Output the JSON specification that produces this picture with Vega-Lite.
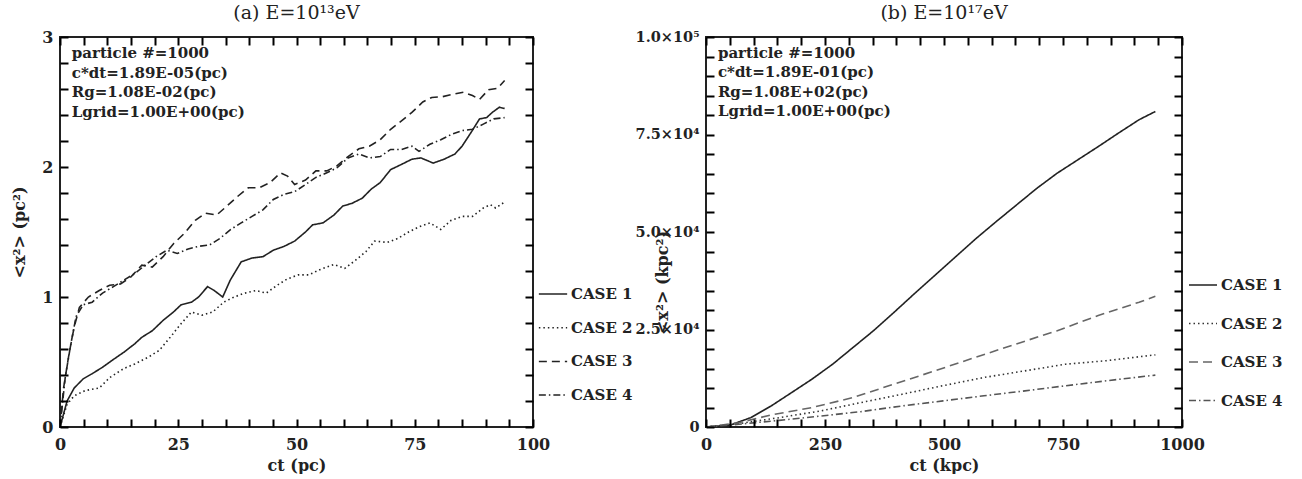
{
  "$schema": "https://vega.github.io/schema/vega-lite/v6.json",
  "background": "white",
  "padding": {"left": 10, "top": 3, "right": 0, "bottom": 0},
  "spacing": 0,
  "resolve": {"scale": {"strokeDash": "independent", "color": "independent"}, "legend": {"strokeDash": "independent", "color": "independent"}},
  "datasets": {
    "a": [
      {"c":"CASE 1","x":0,"y":0},{"c":"CASE 1","x":1.5,"y":0.2},{"c":"CASE 1","x":3,"y":0.3},{"c":"CASE 1","x":4.9,"y":0.37},{"c":"CASE 1","x":6.8,"y":0.41},{"c":"CASE 1","x":9,"y":0.46},{"c":"CASE 1","x":11.3,"y":0.52},{"c":"CASE 1","x":13.5,"y":0.575},{"c":"CASE 1","x":15.8,"y":0.64},{"c":"CASE 1","x":17.3,"y":0.69},{"c":"CASE 1","x":19.5,"y":0.74},{"c":"CASE 1","x":21.8,"y":0.82},{"c":"CASE 1","x":24,"y":0.885},{"c":"CASE 1","x":25.6,"y":0.94},{"c":"CASE 1","x":27.8,"y":0.96},{"c":"CASE 1","x":29.3,"y":1.0},{"c":"CASE 1","x":31.2,"y":1.08},{"c":"CASE 1","x":32.6,"y":1.05},{"c":"CASE 1","x":34.4,"y":1.0},{"c":"CASE 1","x":36,"y":1.13},{"c":"CASE 1","x":38.3,"y":1.27},{"c":"CASE 1","x":40.6,"y":1.3},{"c":"CASE 1","x":42.9,"y":1.31},{"c":"CASE 1","x":45.1,"y":1.36},{"c":"CASE 1","x":47.4,"y":1.39},{"c":"CASE 1","x":49.6,"y":1.43},{"c":"CASE 1","x":51.9,"y":1.5},{"c":"CASE 1","x":53.4,"y":1.555},{"c":"CASE 1","x":55.6,"y":1.57},{"c":"CASE 1","x":57.9,"y":1.63},{"c":"CASE 1","x":59.8,"y":1.7},{"c":"CASE 1","x":61.7,"y":1.72},{"c":"CASE 1","x":63.9,"y":1.76},{"c":"CASE 1","x":65.8,"y":1.83},{"c":"CASE 1","x":67.7,"y":1.88},{"c":"CASE 1","x":69.9,"y":1.98},{"c":"CASE 1","x":72.2,"y":2.02},{"c":"CASE 1","x":74.4,"y":2.06},{"c":"CASE 1","x":76.3,"y":2.07},{"c":"CASE 1","x":78.9,"y":2.03},{"c":"CASE 1","x":81.2,"y":2.06},{"c":"CASE 1","x":83.5,"y":2.1},{"c":"CASE 1","x":85,"y":2.16},{"c":"CASE 1","x":86.8,"y":2.26},{"c":"CASE 1","x":88.7,"y":2.37},{"c":"CASE 1","x":90.2,"y":2.38},{"c":"CASE 1","x":91.4,"y":2.42},{"c":"CASE 1","x":92.9,"y":2.46},{"c":"CASE 1","x":94,"y":2.45},
      {"c":"CASE 2","x":0,"y":0},{"c":"CASE 2","x":1.5,"y":0.175},{"c":"CASE 2","x":3,"y":0.24},{"c":"CASE 2","x":5.3,"y":0.28},{"c":"CASE 2","x":8.3,"y":0.3},{"c":"CASE 2","x":10.5,"y":0.38},{"c":"CASE 2","x":13.5,"y":0.45},{"c":"CASE 2","x":15.8,"y":0.485},{"c":"CASE 2","x":18.8,"y":0.54},{"c":"CASE 2","x":21,"y":0.59},{"c":"CASE 2","x":23.3,"y":0.69},{"c":"CASE 2","x":25.6,"y":0.795},{"c":"CASE 2","x":27.8,"y":0.885},{"c":"CASE 2","x":30,"y":0.86},{"c":"CASE 2","x":32.3,"y":0.885},{"c":"CASE 2","x":34.6,"y":0.96},{"c":"CASE 2","x":36.8,"y":1.0},{"c":"CASE 2","x":39.1,"y":1.03},{"c":"CASE 2","x":41.4,"y":1.05},{"c":"CASE 2","x":43.6,"y":1.03},{"c":"CASE 2","x":45.9,"y":1.09},{"c":"CASE 2","x":48.1,"y":1.14},{"c":"CASE 2","x":50.4,"y":1.17},{"c":"CASE 2","x":52.6,"y":1.17},{"c":"CASE 2","x":54.9,"y":1.21},{"c":"CASE 2","x":57.9,"y":1.25},{"c":"CASE 2","x":60.2,"y":1.22},{"c":"CASE 2","x":62.4,"y":1.28},{"c":"CASE 2","x":64.7,"y":1.35},{"c":"CASE 2","x":66.5,"y":1.43},{"c":"CASE 2","x":69.2,"y":1.42},{"c":"CASE 2","x":71.4,"y":1.45},{"c":"CASE 2","x":73.7,"y":1.5},{"c":"CASE 2","x":75.9,"y":1.54},{"c":"CASE 2","x":78.2,"y":1.57},{"c":"CASE 2","x":80.5,"y":1.52},{"c":"CASE 2","x":82.7,"y":1.59},{"c":"CASE 2","x":85,"y":1.62},{"c":"CASE 2","x":87.2,"y":1.62},{"c":"CASE 2","x":89.5,"y":1.685},{"c":"CASE 2","x":91,"y":1.71},{"c":"CASE 2","x":92.1,"y":1.685},{"c":"CASE 2","x":94,"y":1.73},
      {"c":"CASE 3","x":0,"y":0},{"c":"CASE 3","x":0.75,"y":0.3},{"c":"CASE 3","x":1.9,"y":0.56},{"c":"CASE 3","x":3,"y":0.77},{"c":"CASE 3","x":4.1,"y":0.92},{"c":"CASE 3","x":6,"y":1.0},{"c":"CASE 3","x":8.3,"y":1.05},{"c":"CASE 3","x":10.5,"y":1.09},{"c":"CASE 3","x":12.8,"y":1.1},{"c":"CASE 3","x":15,"y":1.155},{"c":"CASE 3","x":17.3,"y":1.245},{"c":"CASE 3","x":19.5,"y":1.23},{"c":"CASE 3","x":21.8,"y":1.31},{"c":"CASE 3","x":24,"y":1.41},{"c":"CASE 3","x":26.3,"y":1.49},{"c":"CASE 3","x":28.6,"y":1.59},{"c":"CASE 3","x":30.8,"y":1.645},{"c":"CASE 3","x":33.1,"y":1.63},{"c":"CASE 3","x":35.3,"y":1.7},{"c":"CASE 3","x":37.6,"y":1.775},{"c":"CASE 3","x":39.8,"y":1.84},{"c":"CASE 3","x":42.1,"y":1.84},{"c":"CASE 3","x":44.4,"y":1.88},{"c":"CASE 3","x":46.6,"y":1.955},{"c":"CASE 3","x":48.1,"y":1.93},{"c":"CASE 3","x":49.6,"y":1.865},{"c":"CASE 3","x":51.9,"y":1.9},{"c":"CASE 3","x":54.1,"y":1.97},{"c":"CASE 3","x":56.4,"y":1.97},{"c":"CASE 3","x":58.6,"y":2.01},{"c":"CASE 3","x":60.9,"y":2.08},{"c":"CASE 3","x":63.2,"y":2.14},{"c":"CASE 3","x":65.4,"y":2.16},{"c":"CASE 3","x":67.7,"y":2.21},{"c":"CASE 3","x":69.9,"y":2.29},{"c":"CASE 3","x":72.2,"y":2.355},{"c":"CASE 3","x":74.4,"y":2.42},{"c":"CASE 3","x":76.7,"y":2.5},{"c":"CASE 3","x":78.6,"y":2.535},{"c":"CASE 3","x":80.8,"y":2.54},{"c":"CASE 3","x":83.1,"y":2.56},{"c":"CASE 3","x":85.3,"y":2.575},{"c":"CASE 3","x":87.2,"y":2.55},{"c":"CASE 3","x":88.7,"y":2.52},{"c":"CASE 3","x":90.6,"y":2.595},{"c":"CASE 3","x":92.5,"y":2.605},{"c":"CASE 3","x":94,"y":2.665},
      {"c":"CASE 4","x":0,"y":0},{"c":"CASE 4","x":1.1,"y":0.38},{"c":"CASE 4","x":2.3,"y":0.64},{"c":"CASE 4","x":3.4,"y":0.85},{"c":"CASE 4","x":4.9,"y":0.94},{"c":"CASE 4","x":6.8,"y":0.96},{"c":"CASE 4","x":9,"y":1.03},{"c":"CASE 4","x":11.3,"y":1.08},{"c":"CASE 4","x":13.5,"y":1.13},{"c":"CASE 4","x":15.8,"y":1.18},{"c":"CASE 4","x":18,"y":1.245},{"c":"CASE 4","x":20.3,"y":1.31},{"c":"CASE 4","x":22.6,"y":1.36},{"c":"CASE 4","x":24.8,"y":1.335},{"c":"CASE 4","x":27.1,"y":1.37},{"c":"CASE 4","x":29.3,"y":1.39},{"c":"CASE 4","x":31.6,"y":1.4},{"c":"CASE 4","x":33.8,"y":1.45},{"c":"CASE 4","x":36.1,"y":1.52},{"c":"CASE 4","x":38.3,"y":1.57},{"c":"CASE 4","x":40.6,"y":1.62},{"c":"CASE 4","x":42.9,"y":1.67},{"c":"CASE 4","x":45.1,"y":1.75},{"c":"CASE 4","x":47.4,"y":1.79},{"c":"CASE 4","x":49.6,"y":1.81},{"c":"CASE 4","x":51.9,"y":1.865},{"c":"CASE 4","x":54.1,"y":1.92},{"c":"CASE 4","x":56.4,"y":1.955},{"c":"CASE 4","x":58.6,"y":1.995},{"c":"CASE 4","x":60.9,"y":2.07},{"c":"CASE 4","x":63.2,"y":2.1},{"c":"CASE 4","x":65.4,"y":2.07},{"c":"CASE 4","x":67.7,"y":2.08},{"c":"CASE 4","x":69.9,"y":2.135},{"c":"CASE 4","x":72.2,"y":2.135},{"c":"CASE 4","x":74.4,"y":2.16},{"c":"CASE 4","x":75.9,"y":2.12},{"c":"CASE 4","x":78.2,"y":2.175},{"c":"CASE 4","x":80.5,"y":2.21},{"c":"CASE 4","x":82.7,"y":2.25},{"c":"CASE 4","x":85,"y":2.28},{"c":"CASE 4","x":87.2,"y":2.29},{"c":"CASE 4","x":89.5,"y":2.33},{"c":"CASE 4","x":91.7,"y":2.37},{"c":"CASE 4","x":94,"y":2.38}
    ],
    "b": [
      {"c":"CASE 1","x":0,"y":0},{"c":"CASE 1","x":51.5,"y":515},{"c":"CASE 1","x":94,"y":2400},{"c":"CASE 1","x":137,"y":5400},{"c":"CASE 1","x":180,"y":8840},{"c":"CASE 1","x":223,"y":12300},{"c":"CASE 1","x":266,"y":16100},{"c":"CASE 1","x":309,"y":20400},{"c":"CASE 1","x":352,"y":24700},{"c":"CASE 1","x":395,"y":29400},{"c":"CASE 1","x":438,"y":34200},{"c":"CASE 1","x":481,"y":38900},{"c":"CASE 1","x":524,"y":43600},{"c":"CASE 1","x":567,"y":48300},{"c":"CASE 1","x":609,"y":52600},{"c":"CASE 1","x":652,"y":56900},{"c":"CASE 1","x":695,"y":61200},{"c":"CASE 1","x":738,"y":65100},{"c":"CASE 1","x":781,"y":68500},{"c":"CASE 1","x":824,"y":71900},{"c":"CASE 1","x":867,"y":75400},{"c":"CASE 1","x":910,"y":78800},{"c":"CASE 1","x":944,"y":80900},
      {"c":"CASE 2","x":0,"y":0},{"c":"CASE 2","x":69,"y":860},{"c":"CASE 2","x":154,"y":2400},{"c":"CASE 2","x":240,"y":4100},{"c":"CASE 2","x":326,"y":6270},{"c":"CASE 2","x":412,"y":8400},{"c":"CASE 2","x":498,"y":10600},{"c":"CASE 2","x":584,"y":12700},{"c":"CASE 2","x":670,"y":14400},{"c":"CASE 2","x":755,"y":16100},{"c":"CASE 2","x":841,"y":17000},{"c":"CASE 2","x":944,"y":18500},
      {"c":"CASE 3","x":0,"y":0},{"c":"CASE 3","x":69,"y":1100},{"c":"CASE 3","x":137,"y":3100},{"c":"CASE 3","x":223,"y":5000},{"c":"CASE 3","x":309,"y":7550},{"c":"CASE 3","x":395,"y":11000},{"c":"CASE 3","x":481,"y":14400},{"c":"CASE 3","x":567,"y":17900},{"c":"CASE 3","x":652,"y":21300},{"c":"CASE 3","x":738,"y":24700},{"c":"CASE 3","x":824,"y":28600},{"c":"CASE 3","x":910,"y":32000},{"c":"CASE 3","x":944,"y":33500},
      {"c":"CASE 4","x":0,"y":0},{"c":"CASE 4","x":69,"y":690},{"c":"CASE 4","x":154,"y":1700},{"c":"CASE 4","x":240,"y":2800},{"c":"CASE 4","x":326,"y":3950},{"c":"CASE 4","x":412,"y":5400},{"c":"CASE 4","x":498,"y":6700},{"c":"CASE 4","x":584,"y":8000},{"c":"CASE 4","x":670,"y":9270},{"c":"CASE 4","x":755,"y":10560},{"c":"CASE 4","x":841,"y":11850},{"c":"CASE 4","x":944,"y":13300}
    ],
    "noteA": [{"note": "particle #=1000\nc*dt=1.89E-05(pc)\nRg=1.08E-02(pc)\nLgrid=1.00E+00(pc)"}],
    "noteB": [{"note": "particle #=1000\nc*dt=1.89E-01(pc)\nRg=1.08E+02(pc)\nLgrid=1.00E+00(pc)"}]
  },
  "hconcat": [
    {
      "width": 473,
      "height": 390,
      "title": {"text": "(a) E=10¹³eV", "font": "DejaVu Serif", "fontSize": 19, "fontWeight": "normal", "offset": 6, "color": "#222"},
      "resolve": {"axis": {"x": "independent", "y": "independent"}},
      "layer": [
        {
          "data": {"name": "a"},
          "mark": {"type": "line", "strokeWidth": 1.6, "color": "#222"},
          "encoding": {
            "x": {"field": "x", "type": "quantitative", "scale": {"domain": [0, 100], "nice": false},
              "axis": {"title": "ct (pc)", "values": [0,5,10,15,20,25,30,35,40,45,50,55,60,65,70,75,80,85,90,95,100], "labelExpr": "datum.value % 25 === 0 ? format(datum.value, 'd') : ''", "labelPadding": 9, "ticks": true, "tickColor": "#000000", "tickSize": 8, "tickWidth": 2, "offset": -8, "zindex": 1}},
            "y": {"field": "y", "type": "quantitative", "scale": {"domain": [0, 3], "nice": false},
              "axis": {"title": "<x²> (pc²)", "values": [0,0.2,0.4,0.6,0.8,1,1.2,1.4,1.6,1.8,2,2.2,2.4,2.6,2.8,3], "labelExpr": "abs(datum.value - round(datum.value)) < 0.001 ? format(datum.value, 'd') : ''", "labelPadding": 7, "titlePadding": 14, "ticks": true, "tickColor": "#000000", "tickSize": 8, "tickWidth": 2, "offset": -8, "zindex": 1}},
            "strokeDash": {"field": "c", "type": "nominal",
              "scale": {"domain": ["CASE 1", "CASE 2", "CASE 3", "CASE 4"], "range": [[1, 0], [1.5, 3], [8, 5], [7, 3, 1.5, 3]]},
              "legend": {"orient": "none", "legendX": 478, "legendY": 242, "title": null, "symbolType": "stroke", "symbolSize": 800, "symbolStrokeWidth": 1.5, "symbolStrokeColor": "#222", "labelFont": "DejaVu Serif", "labelFontWeight": "bold", "labelFontSize": 15, "labelOffset": 3, "rowPadding": 10.7, "labelColor": "#222"}}
          }
        },
        {
          "data": {"name": "noteA"},
          "mark": {"type": "text", "align": "left", "baseline": "top", "lineBreak": "\n", "lineHeight": 19.5, "font": "DejaVu Serif", "fontWeight": "bold", "fontSize": 15, "color": "#222"},
          "encoding": {
            "x": {"datum": 2.5, "type": "quantitative", "axis": {"orient": "top", "labels": false, "title": null, "values": [0,5,10,15,20,25,30,35,40,45,50,55,60,65,70,75,80,85,90,95,100], "ticks": true, "tickColor": "#000000", "tickSize": 8, "tickWidth": 2, "offset": -8, "zindex": 1}},
            "y": {"datum": 2.93, "type": "quantitative", "axis": {"orient": "right", "labels": false, "title": null, "values": [0,0.2,0.4,0.6,0.8,1,1.2,1.4,1.6,1.8,2,2.2,2.4,2.6,2.8,3], "ticks": true, "tickColor": "#000000", "tickSize": 8, "tickWidth": 2, "offset": -8, "zindex": 1}},
            "text": {"field": "note"}
          }
        }
      ]
    },
    {
      "width": 476,
      "height": 390,
      "title": {"text": "(b) E=10¹⁷eV", "font": "DejaVu Serif", "fontSize": 19, "fontWeight": "normal", "offset": 6, "color": "#222"},
      "resolve": {"axis": {"x": "independent", "y": "independent"}},
      "layer": [
        {
          "data": {"name": "b"},
          "mark": {"type": "line", "strokeWidth": 1.6},
          "encoding": {
            "x": {"field": "x", "type": "quantitative", "scale": {"domain": [0, 1000], "nice": false},
              "axis": {"title": "ct (kpc)", "values": [0,50,100,150,200,250,300,350,400,450,500,550,600,650,700,750,800,850,900,950,1000], "labelExpr": "datum.value % 250 === 0 ? format(datum.value, 'd') : ''", "labelPadding": 9, "ticks": true, "tickColor": "#000000", "tickSize": 8, "tickWidth": 2, "offset": -8, "zindex": 1}},
            "y": {"field": "y", "type": "quantitative", "scale": {"domain": [0, 100000], "nice": false},
              "axis": {"title": "<x²> (kpc²)", "values": [0,5000,10000,15000,20000,25000,30000,35000,40000,45000,50000,55000,60000,65000,70000,75000,80000,85000,90000,95000,100000], "labelExpr": "datum.value === 0 ? '0' : datum.value % 25000 !== 0 ? '' : datum.value === 100000 ? '1.0×10⁵' : format(datum.value / 10000, '.1f') + '×10⁴'", "labelPadding": 7, "labelFontSize": 14.5, "titleX": -44, "titleY": 245, "ticks": true, "tickColor": "#000000", "tickSize": 8, "tickWidth": 2, "offset": -8, "zindex": 1}},
            "strokeDash": {"field": "c", "type": "nominal",
              "scale": {"domain": ["CASE 1", "CASE 2", "CASE 3", "CASE 4"], "range": [[1, 0], [1.5, 3], [9, 5], [7, 3, 1.5, 3]]},
              "legend": {"orient": "none", "legendX": 482, "legendY": 233, "title": null, "symbolType": "stroke", "symbolSize": 784, "symbolStrokeWidth": 1.5, "labelFont": "DejaVu Serif", "labelFontWeight": "bold", "labelFontSize": 15, "labelOffset": 3, "rowPadding": 15.5, "labelColor": "#222"}},
            "color": {"field": "c", "type": "nominal",
              "scale": {"domain": ["CASE 1", "CASE 2", "CASE 3", "CASE 4"], "range": ["#222222", "#333333", "#666666", "#555555"]}}
          }
        },
        {
          "data": {"name": "noteB"},
          "mark": {"type": "text", "align": "left", "baseline": "top", "lineBreak": "\n", "lineHeight": 19.5, "font": "DejaVu Serif", "fontWeight": "bold", "fontSize": 15, "color": "#222"},
          "encoding": {
            "x": {"datum": 25, "type": "quantitative", "axis": {"orient": "top", "labels": false, "title": null, "values": [0,50,100,150,200,250,300,350,400,450,500,550,600,650,700,750,800,850,900,950,1000], "ticks": true, "tickColor": "#000000", "tickSize": 8, "tickWidth": 2, "offset": -8, "zindex": 1}},
            "y": {"datum": 97700, "type": "quantitative", "axis": {"orient": "right", "labels": false, "title": null, "values": [0,5000,10000,15000,20000,25000,30000,35000,40000,45000,50000,55000,60000,65000,70000,75000,80000,85000,90000,95000,100000], "ticks": true, "tickColor": "#000000", "tickSize": 8, "tickWidth": 2, "offset": -8, "zindex": 1}},
            "text": {"field": "note"}
          }
        }
      ]
    }
  ],
  "config": {
    "view": {"stroke": "#222", "strokeWidth": 2},
    "axis": {"domain": false, "grid": false, "labelFont": "DejaVu Serif", "labelFontWeight": "bold", "labelFontSize": 16, "labelColor": "#222", "labelFlush": false, "labelOverlap": false, "titleFont": "DejaVu Serif", "titleFontWeight": "bold", "titleFontSize": 16, "titleColor": "#222", "titlePadding": 5},
    "legend": {"symbolType": "stroke"}
  }
}
